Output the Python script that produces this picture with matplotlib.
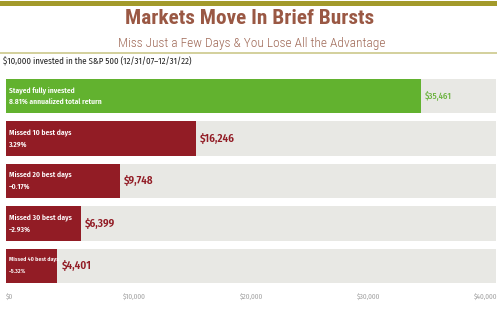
import matplotlib
matplotlib.use("Agg")
import matplotlib.pyplot as plt

categories = ["Stayed fully invested", "Missed 10 best days", "Missed 20 best days",
              "Missed 30 best days", "Missed 40 best days"]
returns = ["8.81% annualized total return", "3.29%", "\u20130.17%", "\u20132.93%", "\u20135.32%"]
values = [35461, 16246, 9748, 6399, 4401]
value_labels = ["$35,461", "$16,246", "$9,748", "$6,399", "$4,401"]
tick_values = [0, 10000, 20000, 30000, 40000]
tick_labels = ["$0", "$10,000", "$20,000", "$30,000", "$40,000"]

TITLE_FONT = ["Roboto Condensed", "DejaVu Sans"]
BODY_FONT = ["Fira Sans Condensed", "DejaVu Sans"]

W, H = 497, 310
fig = plt.figure(figsize=(W / 100, H / 100), dpi=100)
fig.patch.set_facecolor("white")

def px(x, y):
    return x / W, 1 - y / H

# header lines
fig.add_artist(plt.Line2D([0, 1], [1 - 2.5 / H] * 2, color="#a39a2b", lw=3.6))
fig.add_artist(plt.Line2D([0, 1], [1 - 52.5 / H] * 2, color="#d3d09c", lw=1.4))

fig.text(*px(250, 19), "Markets Move In Brief Bursts", ha="center", va="center",
         fontsize=15.3, fontweight="bold", color="#9a5844", family=TITLE_FONT)
fig.text(*px(252, 43), "Miss Just a Few Days & You Lose All the Advantage", ha="center", va="center",
         fontsize=9.6, fontweight="light", color="#a06a58", family=TITLE_FONT)
fig.text(*px(3, 62), "$10,000 invested in the S&P 500 (12/31/07\u201312/31/22)", ha="left", va="center",
         fontsize=6.3, color="#222222", family=BODY_FONT)

XMAX = 41880
ax_l, ax_r, ax_t, ax_b = 6, 496, 75, 287
ax = fig.add_axes([ax_l / W, 1 - ax_b / H, (ax_r - ax_l) / W, (ax_b - ax_t) / H])
ax.set_xlim(0, XMAX)
ax.set_ylim(len(categories) - 0.5, -0.5)
for s in ax.spines.values():
    s.set_visible(False)
ax.set_yticks([])

ypos = list(range(len(categories)))
bh = 0.81
ax.barh(ypos, [XMAX] * len(ypos), height=bh, color="#e8e8e4", left=0)
colors = ["#62b22f"] + ["#921c25"] * 4
ax.barh(ypos, values, height=bh, color=colors)

for i, (cat, ret, v, vl) in enumerate(zip(categories, returns, values, value_labels)):
    fs = 5.4 if i < 4 else 4.25
    ax.text(230, i - 0.15, cat, ha="left", va="center", color="white", fontsize=fs,
            fontweight="semibold", family=BODY_FONT)
    ax.text(230, i + 0.14, ret, ha="left", va="center", color="white", fontsize=fs,
            fontweight="semibold", family=BODY_FONT)
    if i == 0:
        ax.text(v + 350, i, vl, ha="left", va="center", color="#6cb33f", fontsize=6.3,
                family=BODY_FONT, fontweight="medium")
    else:
        ax.text(v + 350, i, vl, ha="left", va="center", color="#921c25", fontsize=8.0,
                family=BODY_FONT, fontweight="semibold")

ax.set_xticks(tick_values)
ax.set_xticklabels(tick_labels, fontsize=5.3, color="#a0a0a0", family=BODY_FONT,
                   fontweight="normal", ha="left")
ax.tick_params(axis="x", length=0, pad=4.5)

fig.savefig("out.png", dpi=100, facecolor="white")
